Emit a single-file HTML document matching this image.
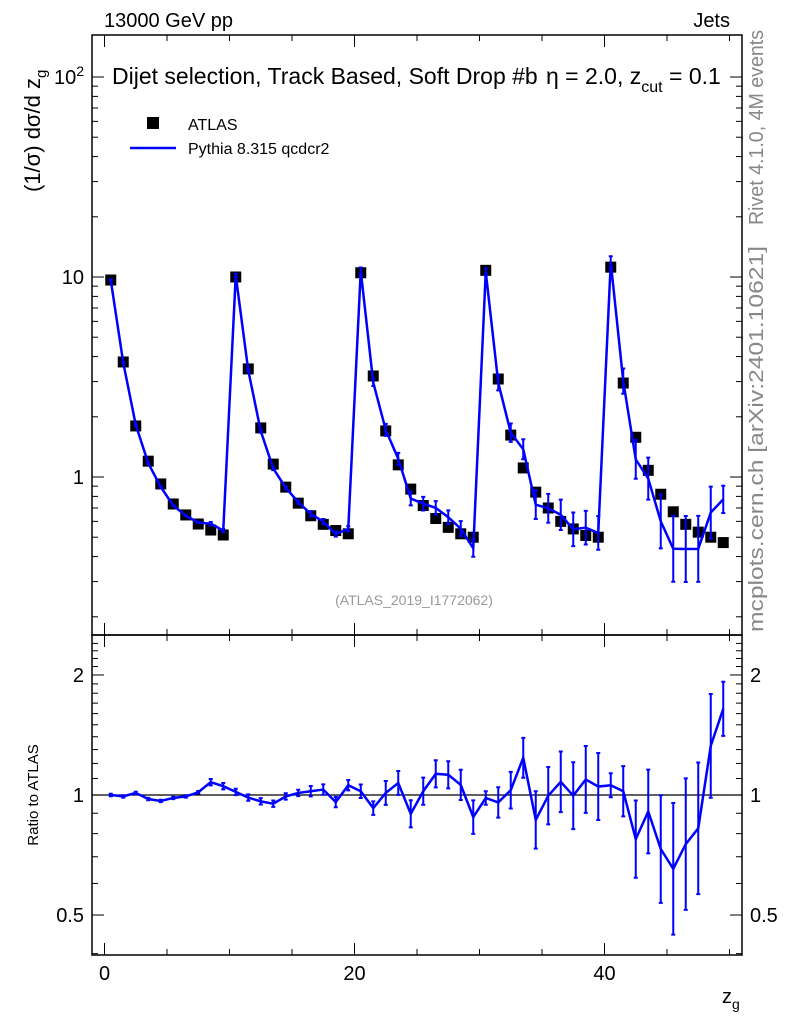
<!DOCTYPE html>
<html><head><meta charset="utf-8"><style>
body{margin:0;background:#fff;}
svg{display:block;font-family:"Liberation Sans",sans-serif;}
</style></head><body>
<svg id="c" width="786" height="1024" viewBox="0 0 786 1024">
<text x="104" y="27" font-size="20">13000 GeV pp</text>
<text x="730" y="27" font-size="20" text-anchor="end">Jets</text>
<g id="main"></g>
<g id="ratio"></g>
<text x="112" y="84" font-size="23">Dijet selection, Track Based, Soft Drop #b<tspan x="546">η = 2.0, z</tspan><tspan font-size="16" dy="8">cut</tspan><tspan dy="-8"> = 0.1</tspan></text>
<rect x="147" y="117" width="12" height="12" fill="#000"/>
<text x="188" y="130" font-size="16">ATLAS</text>
<line x1="130" y1="148" x2="176" y2="148" stroke="#00f" stroke-width="2.5"/>
<text x="188" y="154" font-size="16">Pythia 8.315 qcdcr2</text>
<text x="414" y="605" font-size="14" fill="#999" text-anchor="middle">(ATLAS_2019_I1772062)</text>
<text transform="translate(763,30) rotate(-90)" font-size="20" fill="#888" text-anchor="end" textLength="195" lengthAdjust="spacingAndGlyphs">Rivet 4.1.0,  4M events</text>
<text transform="translate(763,632) rotate(-90)" font-size="20" fill="#888" textLength="386" lengthAdjust="spacingAndGlyphs">mcplots.cern.ch [arXiv:2401.10621]</text>
<text transform="translate(40,192) rotate(-90)" font-size="22">(1/σ) dσ/d z<tspan font-size="15" dy="6">g</tspan></text>
<text transform="translate(38,795) rotate(-90)" font-size="15" text-anchor="middle">Ratio to ATLAS</text>
<text x="722" y="1003" font-size="20">z<tspan font-size="14" dy="6">g</tspan></text>
</svg>
<script>
const xCenters=[0.5,1.5,2.5,3.5,4.5,5.5,6.5,7.5,8.5,9.5,10.5,11.5,12.5,13.5,14.5,15.5,16.5,17.5,18.5,19.5,20.5,21.5,22.5,23.5,24.5,25.5,26.5,27.5,28.5,29.5,30.5,31.5,32.5,33.5,34.5,35.5,36.5,37.5,38.5,39.5,40.5,41.5,42.5,43.5,44.5,45.5,46.5,47.5,48.5,49.5];
const atlasValues=[9.66,3.76,1.80,1.20,0.923,0.733,0.646,0.582,0.543,0.513,10.0,3.47,1.76,1.16,0.89,0.74,0.64,0.58,0.54,0.52,10.5,3.2,1.70,1.15,0.87,0.72,0.62,0.56,0.52,0.50,10.8,3.09,1.62,1.11,0.84,0.70,0.60,0.55,0.51,0.50,11.2,2.95,1.58,1.08,0.82,0.67,0.58,0.53,0.50,0.47];
const ratioValues=[1.00,0.992,1.012,0.977,0.966,0.983,0.992,1.016,1.077,1.052,1.018,0.985,0.964,0.951,0.992,1.012,1.022,1.032,0.960,1.058,1.022,0.927,1.012,1.072,0.897,1.022,1.130,1.124,1.060,0.880,0.983,0.958,1.028,1.240,0.866,0.996,1.079,0.996,1.094,1.050,1.058,1.022,0.775,0.909,0.732,0.653,0.753,0.825,1.328,1.645];
const ratioErrDec=[0.003,0.003,0.003,0.003,0.003,0.003,0.003,0.003,0.008,0.008,0.008,0.008,0.008,0.008,0.008,0.008,0.013,0.013,0.013,0.013,0.017,0.017,0.03,0.03,0.034,0.034,0.034,0.034,0.038,0.042,0.017,0.038,0.046,0.05,0.072,0.072,0.076,0.084,0.084,0.084,0.03,0.063,0.097,0.105,0.135,0.165,0.165,0.165,0.13,0.068];
const mainYTicks=[1,10,100];
const ratioYTicks=[0.5,1,2];
const xTickLabels=[0,20,40];

const NS="http://www.w3.org/2000/svg";
const L=92,R=742,MT=35,MB=635,RT=635,RB=955;
const xs=v=>L+(v+1)/52*(R-L);
const ym=v=>477-200*Math.log10(v);
const yr=v=>795-398.7*Math.log10(v);
function mk(par,tag,attrs){const e=document.createElementNS(NS,tag);for(const k in attrs)e.setAttribute(k,attrs[k]);par.appendChild(e);return e;}
const main=document.getElementById('main'),ratio=document.getElementById('ratio');

let f=mk(main,'rect',{x:L,y:MT,width:R-L,height:MB-MT,fill:'none',stroke:'#000','stroke-width':1.5});


f=mk(ratio,'rect',{x:L,y:RT,width:R-L,height:RB-RT,fill:'none',stroke:'#000','stroke-width':1.5});



for(let d=-1;d<=2;d++){for(let m=1;m<10;m++){const v=m*Math.pow(10,d);const y=ym(v);if(y<MT||y>MB)continue;const len=m==1?12:6;
 mk(main,'line',{x1:L,y1:y,x2:L+len,y2:y,stroke:'#000'});mk(main,'line',{x1:R,y1:y,x2:R-len,y2:y,stroke:'#000'});}}
mainYTicks.forEach(v=>{const t=mk(main,'text',{x:L-8,y:ym(v)+7,'font-size':20,'text-anchor':'end'});
 
 
 if(v==100){t.textContent='10';const s=mk(t,'tspan',{'font-size':14,dy:-8});s.textContent='2';}else t.textContent=String(v);});
for(let v=0.4;v<=2.5;v+=0.1){const y=yr(v);if(y<RT||y>RB)continue;const maj=Math.abs(v-0.5)<1e-6||Math.abs(v-1)<1e-6||Math.abs(v-2)<1e-6;const len=maj?12:6;
 mk(ratio,'line',{x1:L,y1:y,x2:L+len,y2:y,stroke:'#000'});mk(ratio,'line',{x1:R,y1:y,x2:R-len,y2:y,stroke:'#000'});}
ratioYTicks.forEach(v=>{const t=mk(ratio,'text',{x:L-8,y:yr(v)+7,'font-size':20,'text-anchor':'end'});t.textContent=String(v);
 
 
 const t2=mk(ratio,'text',{x:R+8,y:yr(v)+7,'font-size':20});t2.textContent=String(v);
 
 });
for(let v=0;v<=50;v+=5){const x=xs(v);const len=v%20==0?12:6;
 [[MB,-1],[MT,1],[RB,-1],[RT,1]].forEach(([y0,s])=>mk(main,'line',{x1:x,y1:y0,x2:x,y2:y0+s*len,stroke:'#000'}));}
xTickLabels.forEach(v=>{const t=mk(ratio,'text',{x:xs(v),y:980,'font-size':20,'text-anchor':'middle'});t.textContent=String(v);
 
 });
let u=mk(ratio,'line',{x1:L,y1:yr(1),x2:R,y2:yr(1),stroke:'#000','stroke-width':1.2});



xCenters.forEach((x,i)=>{const r=mk(main,'rect',{x:xs(x)-5.5,y:ym(atlasValues[i])-5.5,width:11,height:11,fill:'#000'});
 
 });
const mc=xCenters.map((x,i)=>atlasValues[i]*ratioValues[i]);
let p=mk(main,'polyline',{points:xCenters.map((x,i)=>xs(x)+','+ym(mc[i])).join(' '),fill:'none',stroke:'#00f','stroke-width':2.5});


xCenters.forEach((x,i)=>{const e=ratioErrDec[i],px=xs(x);
 const y1=ym(mc[i]*Math.pow(10,e)),y2=ym(mc[i]/Math.pow(10,e));
 const g=mk(main,'path',{d:`M${px},${y1}V${y2}M${px-2},${y1}h4M${px-2},${y2}h4`,stroke:'#00f','stroke-width':2,fill:'none'});
 
 });
p=mk(ratio,'polyline',{points:xCenters.map((x,i)=>xs(x)+','+yr(ratioValues[i])).join(' '),fill:'none',stroke:'#00f','stroke-width':2.5});


xCenters.forEach((x,i)=>{const e=ratioErrDec[i],px=xs(x);
 const y1=yr(ratioValues[i]*Math.pow(10,e)),y2=yr(ratioValues[i]/Math.pow(10,e));
 const g=mk(ratio,'path',{d:`M${px},${y1}V${y2}M${px-2},${y1}h4M${px-2},${y2}h4`,stroke:'#00f','stroke-width':2,fill:'none'});
 
 });
</script>
</body></html>
